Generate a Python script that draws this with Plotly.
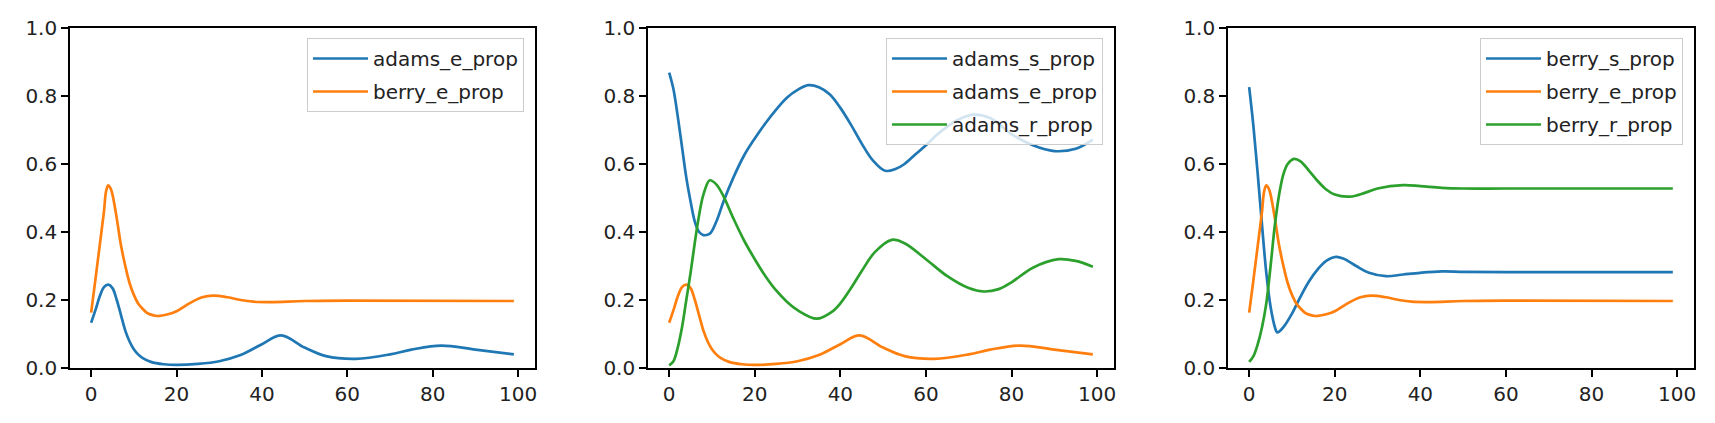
import plotly.graph_objects as go

# ---------------- data ----------------
adams_e_x = [0, 1, 2, 3, 4, 5, 6, 7, 8, 9, 10, 11, 12, 14, 17, 20, 25, 30, 35, 40, 44.5, 50, 55, 62, 70, 75, 82, 90, 99]
adams_e_y = [0.133, 0.17, 0.21, 0.238, 0.245, 0.235, 0.2, 0.155, 0.11, 0.078, 0.055, 0.04, 0.03, 0.018, 0.011, 0.009, 0.012, 0.02, 0.038, 0.07, 0.096, 0.06, 0.035, 0.027, 0.04, 0.054, 0.066, 0.054, 0.04]

berry_e_x = [0, 1, 2, 3, 3.5, 4, 4.5, 5, 6, 7, 8, 9, 10, 11, 12, 13, 14, 15.5, 18, 20, 23, 26, 28.5, 32, 35, 38, 42, 50, 60, 99]
berry_e_y = [0.163, 0.26, 0.36, 0.46, 0.52, 0.537, 0.53, 0.51, 0.44, 0.36, 0.30, 0.25, 0.215, 0.19, 0.175, 0.163, 0.157, 0.153, 0.158, 0.167, 0.19, 0.208, 0.213, 0.208, 0.2, 0.195, 0.194, 0.197, 0.198, 0.197]

adams_s_x = [0, 1, 2, 3, 4, 5, 6, 7, 8, 9.5, 11, 12.7, 15, 17.5, 20, 22.5, 25, 27.5, 30, 32.5, 35, 37.5, 40, 42.5, 45, 47.5, 50.5, 53, 55, 57.5, 60, 62.5, 65, 67.5, 71, 75, 80, 85, 90, 95, 99]
adams_s_y = [0.869, 0.82, 0.74, 0.65, 0.56, 0.49, 0.43, 0.40, 0.391, 0.395, 0.43, 0.49, 0.56, 0.625, 0.675, 0.72, 0.76, 0.795, 0.818, 0.832, 0.826, 0.805, 0.765, 0.715, 0.66, 0.612, 0.58, 0.586, 0.6, 0.628, 0.655, 0.685, 0.71, 0.73, 0.745, 0.735, 0.688, 0.655, 0.638, 0.645, 0.672]

adams_r_x = [0, 1, 2, 3, 4, 5, 6, 7, 8, 9.5, 11, 12.7, 15, 17.5, 20, 22.5, 25, 27.5, 30, 34.5, 38, 40, 42.5, 45, 48, 52, 55, 60, 65, 70, 73.5, 77, 80, 85, 91, 95, 99]
adams_r_y = [0.008, 0.02, 0.06, 0.12, 0.2, 0.28, 0.37, 0.45, 0.51, 0.552, 0.54, 0.505, 0.44, 0.375, 0.32, 0.27, 0.228, 0.195, 0.17, 0.145, 0.165, 0.19, 0.235, 0.285, 0.34, 0.377, 0.367, 0.32, 0.27, 0.235, 0.225, 0.232, 0.252, 0.295, 0.32, 0.315, 0.298]

berry_s_x = [0, 1, 2, 3, 4, 5, 6, 6.5, 7, 8, 10, 12, 14, 16, 18, 20.3, 22, 25, 28, 32, 36, 40, 45, 50, 60, 99]
berry_s_y = [0.826, 0.71, 0.57, 0.42, 0.28, 0.18, 0.12, 0.105, 0.107, 0.12, 0.16, 0.21, 0.255, 0.29, 0.315, 0.327, 0.322, 0.3, 0.28, 0.27, 0.275, 0.28, 0.284, 0.283, 0.282, 0.282]

berry_r_x = [0, 1, 2, 3, 4, 5, 6, 7, 8, 9, 10.5, 12, 14, 16, 18, 20, 23.5, 27, 30, 36, 40, 45, 50, 60, 99]
berry_r_y = [0.018, 0.035, 0.07, 0.12, 0.19, 0.3, 0.42, 0.51, 0.57, 0.6, 0.615, 0.608, 0.58, 0.55, 0.525, 0.51, 0.504, 0.515, 0.528, 0.538, 0.535, 0.53, 0.528, 0.528, 0.528]

x_ticks = [0, 20, 40, 60, 80, 100]
y_ticks = [0.0, 0.2, 0.4, 0.6, 0.8, 1.0]

BLUE, ORANGE, GREEN = "#1f77b4", "#ff7f0e", "#2ca02c"

panels = [
    [("adams_e_prop", adams_e_x, adams_e_y, BLUE), ("berry_e_prop", berry_e_x, berry_e_y, ORANGE)],
    [("adams_s_prop", adams_s_x, adams_s_y, BLUE), ("adams_e_prop", adams_e_x, adams_e_y, ORANGE),
     ("adams_r_prop", adams_r_x, adams_r_y, GREEN)],
    [("berry_s_prop", berry_s_x, berry_s_y, BLUE), ("berry_e_prop", berry_e_x, berry_e_y, ORANGE),
     ("berry_r_prop", berry_r_x, berry_r_y, GREEN)],
]

W, H = 1715, 423
x_domains = [(70, 535), (648, 1114), (1228, 1694)]
y_dom = ((H - 368) / H, (H - 28) / H)
legend_right = [524, 1103, 1683]

FONT = "DejaVu Sans"
fig = go.Figure()
for i, traces in enumerate(panels):
    sfx = "" if i == 0 else str(i + 1)
    leg = "legend" if i == 0 else f"legend{i + 1}"
    for j, (name, xs, ys, col) in enumerate(traces):
        fig.add_trace(go.Scatter(
            x=xs, y=ys, mode="lines", name=name,
            line=dict(color=col, width=2.7, shape="spline", smoothing=1.0),
            xaxis="x" + sfx, yaxis="y" + sfx, legend=leg,
            legendgroup=f"g{i}_{j}",
        ))
    ax = dict(
        domain=[x_domains[i][0] / W, x_domains[i][1] / W],
        range=[-4.95, 103.95], tickvals=x_ticks, ticks="outside", ticklen=7, tickwidth=1.6,
        tickcolor="black", showline=True, linecolor="black", linewidth=1.6, mirror=True,
        showgrid=False, zeroline=False, anchor="y" + sfx, automargin=False,
        tickfont=dict(family=FONT, size=20, color="#222"),
    )
    ay = dict(
        domain=list(y_dom), range=[0, 1], tickvals=y_ticks, tickformat=".1f", ticks="outside",
        ticklen=7, tickwidth=1.6, tickcolor="black", showline=True, linecolor="black",
        linewidth=1.6, mirror=True, showgrid=False, zeroline=False, anchor="x" + sfx,
        automargin=False,
        tickfont=dict(family=FONT, size=20, color="#222"),
    )
    fig.layout["xaxis" + sfx] = ax
    fig.layout["yaxis" + sfx] = ay
    fig.layout[leg] = dict(
        x=legend_right[i] / W, y=(H - 38) / H, xanchor="right", yanchor="top",
        bgcolor="rgba(255,255,255,0.8)", bordercolor="#cccccc", borderwidth=1,
        font=dict(family=FONT, size=20, color="#222"), tracegroupgap=4, itemwidth=55,
    )

fig.update_layout(
    width=W, height=H, margin=dict(l=0, r=0, t=0, b=0, autoexpand=False),
    paper_bgcolor="white", plot_bgcolor="white", showlegend=True,
)
fig.write_html("out.html")
